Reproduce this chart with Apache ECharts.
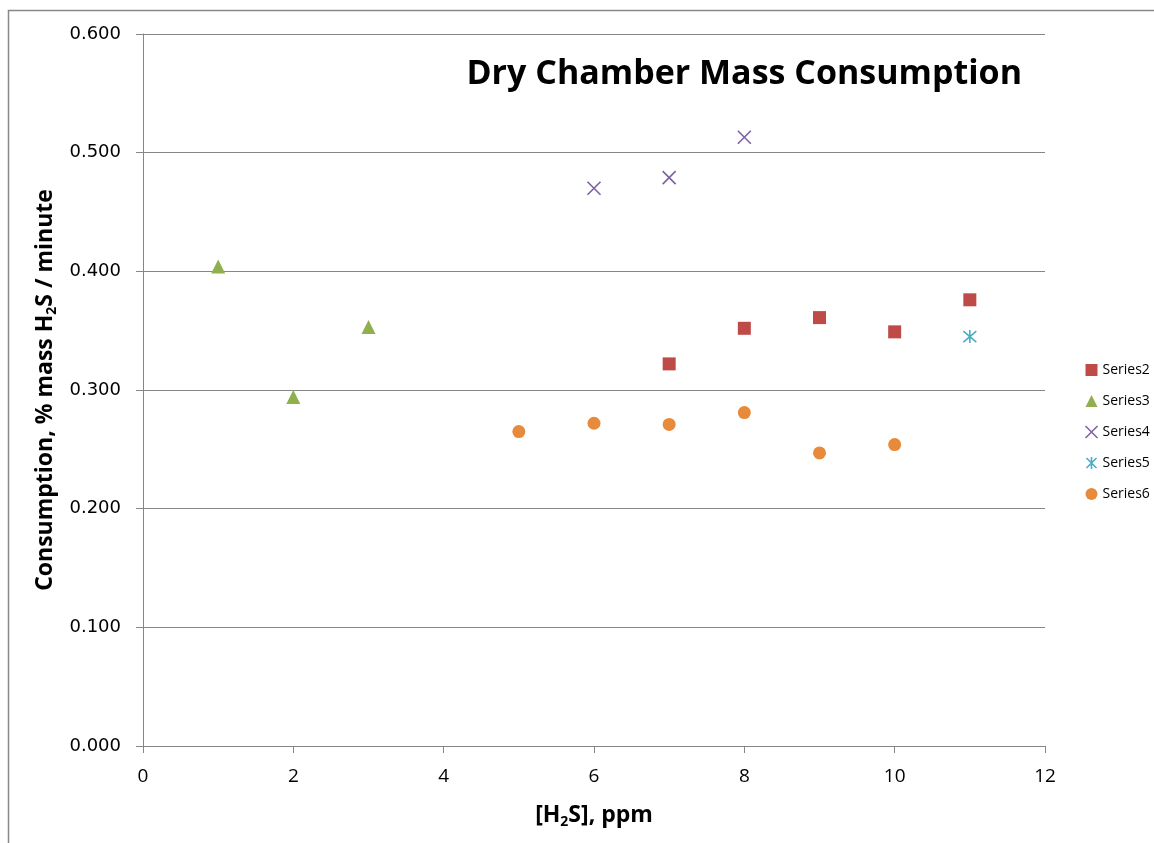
<!DOCTYPE html>
<html>
<head>
<meta charset="utf-8">
<script src="https://cdn.jsdelivr.net/npm/echarts@6/dist/echarts.min.js"></script>
<style>
  html, body { margin: 0; padding: 0; background: #fff; }
  #chart { width: 1154px; height: 843px; }
</style>
</head>
<body>
<div id="chart"></div>
<script>
// data
const series2X = [7, 8, 9, 10, 11];
const series2Y = [0.322, 0.352, 0.361, 0.349, 0.376];
const series3X = [1, 2, 3];
const series3Y = [0.404, 0.294, 0.353];
const series4X = [6, 7, 8];
const series4Y = [0.470, 0.479, 0.513];
const series5X = [11];
const series5Y = [0.345];
const series6X = [5, 6, 7, 8, 9, 10];
const series6Y = [0.265, 0.272, 0.271, 0.281, 0.247, 0.254];

const crossPath = "path://M0,0L10,10M10,0L0,10";
const starPath = "path://M0,0L10,10M10,0L0,10M5,-1L5,11";

const pairs = (xs, ys) => xs.map((x, i) => [x, ys[i]]);

const chart = echarts.init(document.getElementById("chart"));

const lineSym = (color) => ({
  color: "none",
  borderColor: color,
  borderWidth: 1.6,
  opacity: 1,
});

const subStyle = {
  sub: {
    fontFamily: "Open Sans",
    fontWeight: "bold",
    fontSize: 14,
    padding: [13, 0, 0, 0],
  },
};

chart.setOption({
  animation: false,
  title: {
    text: "Dry Chamber Mass Consumption",
    right: 127,
    top: 52,
    textStyle: {
      fontFamily: "Open Sans",
      fontWeight: "bold",
      fontSize: 34,
      color: "#000",
    },
  },
  graphic: [
    {
      type: "polyline",
      shape: { points: [[8.5, 900], [8.5, 10.5], [1200, 10.5]] },
      style: { stroke: "#888", lineWidth: 1.5, fill: null },
      silent: true,
    },
  ],
  legend: {
    orient: "vertical",
    left: 1083,
    top: 361,
    padding: 0,
    itemGap: 13,
    itemWidth: 12,
    itemHeight: 12,
    textStyle: { fontFamily: "Open Sans", fontSize: 14, color: "#000", lineHeight: 18 },
    data: [
      { name: "Series2", icon: "rect" },
      { name: "Series3", icon: "triangle" },
      { name: "Series4", icon: crossPath, itemStyle: lineSym("#8064a2") },
      { name: "Series5", icon: starPath, itemStyle: lineSym("#4bacc6") },
      { name: "Series6", icon: "circle" },
    ],
  },
  grid: { left: 143, right: 109, top: 34, bottom: 97 },
  xAxis: {
    type: "value",
    min: 0,
    max: 12,
    interval: 2,
    name: "[H{sub|2}S], ppm",
    nameLocation: "middle",
    nameGap: 56,
    nameTextStyle: {
      fontFamily: "Open Sans",
      fontWeight: "bold",
      fontSize: 23,
      color: "#000",
      rich: subStyle,
    },
    axisLine: { lineStyle: { color: "#868686" } },
    axisTick: { show: true, length: 7, lineStyle: { color: "#868686" } },
    axisLabel: { fontFamily: "Open Sans", fontSize: 19, color: "#000", margin: 21 },
    splitLine: { show: false },
  },
  yAxis: {
    type: "value",
    min: 0,
    max: 0.6,
    interval: 0.1,
    name: "Consumption, % mass H{sub|2}S / minute",
    nameLocation: "middle",
    nameGap: 84,
    nameTextStyle: {
      fontFamily: "Open Sans",
      fontWeight: "bold",
      fontSize: 23,
      color: "#000",
      rich: subStyle,
    },
    axisLine: { show: true, lineStyle: { color: "#868686" } },
    axisTick: { show: true, length: 7, lineStyle: { color: "#868686" } },
    axisLabel: {
      fontFamily: "DejaVu Sans",
      fontSize: 18,
      color: "#000",
      margin: 22,
      formatter: (v) => v.toFixed(3),
    },
    splitLine: { lineStyle: { color: "#868686" } },
  },
  series: [
    {
      name: "Series2",
      type: "scatter",
      symbol: "rect",
      symbolSize: 13,
      itemStyle: { color: "#be4b48", opacity: 1 },
      data: pairs(series2X, series2Y),
    },
    {
      name: "Series3",
      type: "scatter",
      symbol: "triangle",
      symbolSize: 14,
      itemStyle: { color: "#8fb04c", opacity: 1 },
      data: pairs(series3X, series3Y),
    },
    {
      name: "Series4",
      type: "scatter",
      symbol: crossPath,
      symbolSize: 13,
      itemStyle: lineSym("#7d60a0"),
      data: pairs(series4X, series4Y),
    },
    {
      name: "Series5",
      type: "scatter",
      symbol: starPath,
      symbolSize: 13,
      itemStyle: lineSym("#4bacc6"),
      data: pairs(series5X, series5Y),
    },
    {
      name: "Series6",
      type: "scatter",
      symbol: "circle",
      symbolSize: 13,
      itemStyle: { color: "#e88a3c", opacity: 1 },
      data: pairs(series6X, series6Y),
    },
  ],
});
</script>
</body>
</html>
